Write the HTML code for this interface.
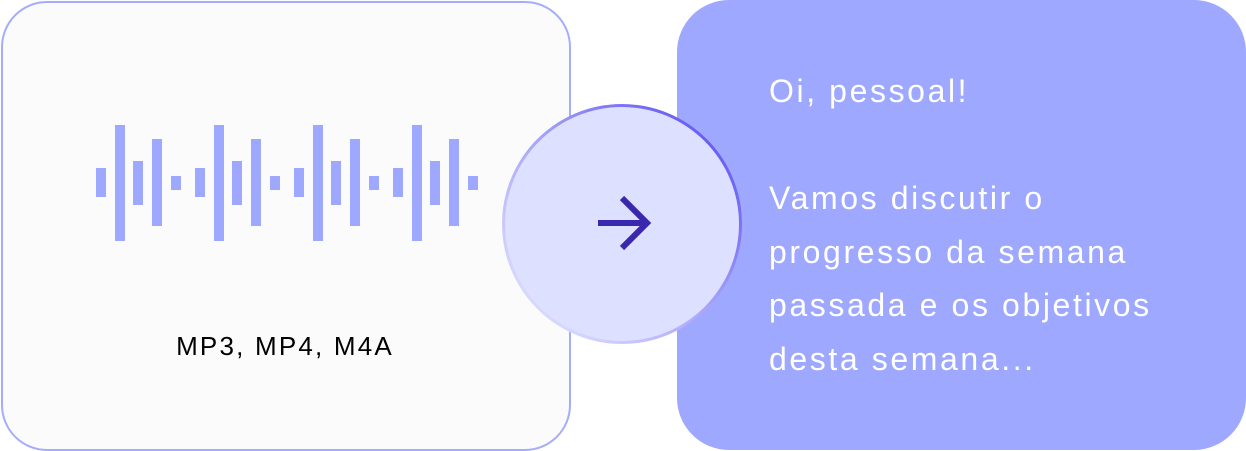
<!DOCTYPE html>
<html><head><style>
html,body{margin:0;padding:0;width:1246px;height:450px;background:#fff;overflow:hidden;font-family:"Liberation Sans",sans-serif;}
.l{position:absolute;left:1px;top:1px;width:566px;height:446px;border:2px solid #a5acfc;border-radius:46px;background:#fbfbfb;}
.r{position:absolute;left:677px;top:0;width:569px;height:450px;border-radius:52px;background:#9ea8fe;}
.b{position:absolute;width:10px;background:#9ea8fe;}
.fmt{position:absolute;left:0;width:570px;top:331px;text-align:center;font-size:26px;letter-spacing:2.2px;color:#000;}
.txt{position:absolute;left:769px;top:65px;color:#fff;font-size:32px;letter-spacing:2.6px;line-height:53.5px;white-space:nowrap;}
.c{position:absolute;left:502px;top:104px;width:240px;height:240px;border-radius:50%;background:linear-gradient(225deg,#4f43ee,#a9a4fb 50%,#eceeff);}
.ci{position:absolute;left:3px;top:3px;width:234px;height:234px;border-radius:50%;background:#dde0fe;}
</style></head><body>
<div class="l"></div>
<div class="r"></div>
<div class="b" style="left:96px;top:168px;height:29px"></div>
<div class="b" style="left:114.7px;top:125px;height:116px"></div>
<div class="b" style="left:133.3px;top:161px;height:44px"></div>
<div class="b" style="left:152.3px;top:139px;height:87px"></div>
<div class="b" style="left:171px;top:176px;height:14px"></div>
<div class="b" style="left:195px;top:168px;height:29px"></div>
<div class="b" style="left:213.7px;top:125px;height:116px"></div>
<div class="b" style="left:232.3px;top:161px;height:44px"></div>
<div class="b" style="left:251.3px;top:139px;height:87px"></div>
<div class="b" style="left:270px;top:176px;height:14px"></div>
<div class="b" style="left:294px;top:168px;height:29px"></div>
<div class="b" style="left:312.7px;top:125px;height:116px"></div>
<div class="b" style="left:331.3px;top:161px;height:44px"></div>
<div class="b" style="left:350.3px;top:139px;height:87px"></div>
<div class="b" style="left:369px;top:176px;height:14px"></div>
<div class="b" style="left:393px;top:168px;height:29px"></div>
<div class="b" style="left:411.7px;top:125px;height:116px"></div>
<div class="b" style="left:430.3px;top:161px;height:44px"></div>
<div class="b" style="left:449.3px;top:139px;height:87px"></div>
<div class="b" style="left:468px;top:176px;height:14px"></div>
<div class="fmt">MP3, MP4, M4A</div>
<div class="txt">Oi, pessoal!<br><br>Vamos discutir o<br>progresso da semana<br>passada e os objetivos<br>desta semana...</div>
<div class="c"><div class="ci"></div></div>
<svg style="position:absolute;left:0;top:0" width="1246" height="450"><path d="M598 223H648M622 198L647 223L622 248" fill="none" stroke="#3a27b0" stroke-width="6"/></svg>
</body></html>
